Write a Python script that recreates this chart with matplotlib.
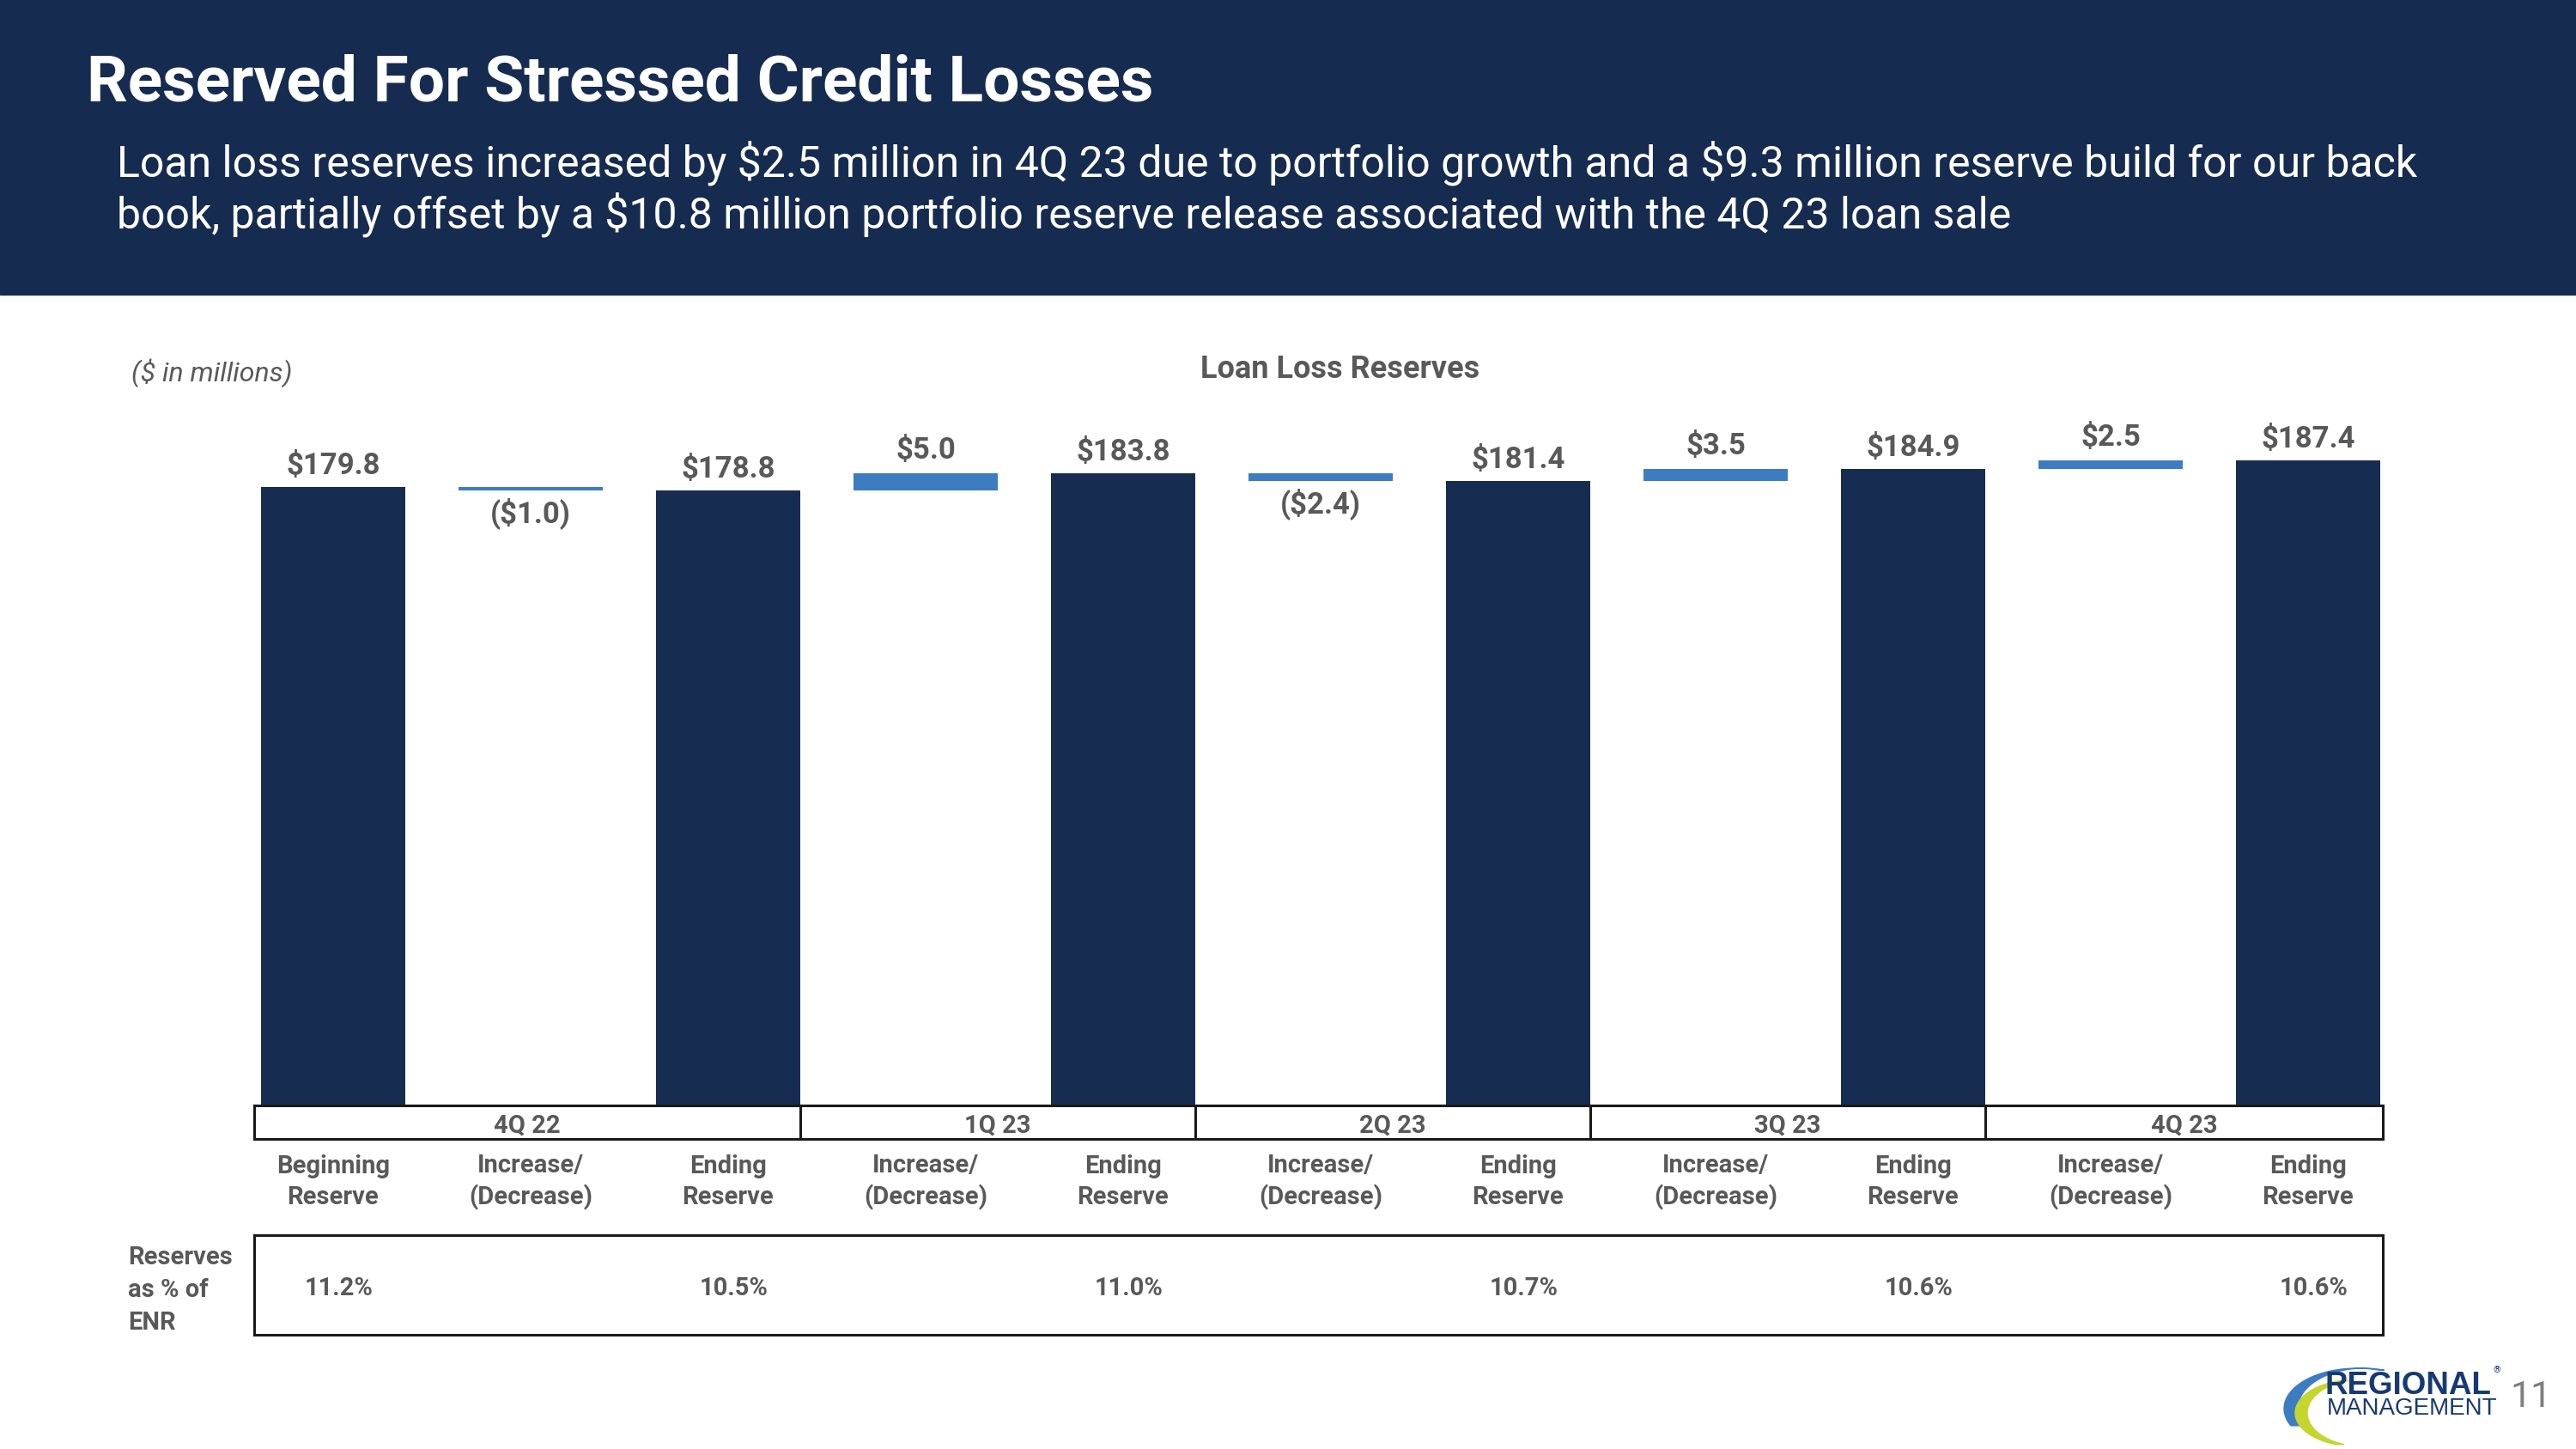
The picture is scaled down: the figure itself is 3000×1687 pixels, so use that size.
import matplotlib
matplotlib.use('Agg')
import matplotlib.pyplot as plt
from matplotlib.patches import Rectangle, Polygon
from matplotlib.transforms import blended_transform_factory
import numpy as np

# ---------------- data ----------------
periods = ['4Q 22', '1Q 23', '2Q 23', '3Q 23', '4Q 23']
beginning_reserve = 179.8
changes = [-1.0, 5.0, -2.4, 3.5, 2.5]
ending_reserves = [178.8, 183.8, 181.4, 184.9, 187.4]
reserve_pct_enr = [11.2, 10.5, 11.0, 10.7, 10.6, 10.6]
cat_begin = 'Beginning\nReserve'
cat_change = 'Increase/\n(Decrease)'
cat_end = 'Ending\nReserve'

title = 'Reserved For Stressed Credit Losses'
subtitle_lines = ['Loan loss reserves increased by $2.5 million in 4Q 23 due to portfolio growth and a $9.3 million reserve build for our back',
                  'book, partially offset by a $10.8 million portfolio reserve release associated with the 4Q 23 loan sale']

# ---------------- style ----------------
NAVY = '#172C51'
BLUE = '#3D7CC0'
GRAY = '#595959'
FONT = 'Roboto'
plt.rcParams['font.family'] = [FONT, 'DejaVu Sans']
plt.rcParams['text.parse_math'] = False

W, H = 3000, 1687
fig = plt.figure(figsize=(30, 16.87), dpi=100)
fig.patch.set_facecolor('white')

def fx(x):
    return x / W

def fy(y):
    return 1 - y / H

# header band
fig.patches.append(Rectangle((0, fy(343)), 1, 343 / H, transform=fig.transFigure,
                             color='#162B50', zorder=0))
fig.text(fx(101), fy(117), title, color='white', fontsize=54, fontweight='bold',
         ha='left', va='baseline')
for k, line in enumerate(subtitle_lines):
    fig.text(fx(136), fy(206 + 60 * k), line, color='white', fontsize=36,
             ha='left', va='baseline')

# ---------------- chart ----------------
ax = fig.add_axes([fx(273), fy(1286), fx(2803) - fx(273), 800 / H])

seq = [('total', beginning_reserve)]
for c, e in zip(changes, ending_reserves):
    seq.append(('change', c))
    seq.append(('total', e))

width = 0.73
prev = 0.0
for i, (kind, v) in enumerate(seq):
    if kind == 'total':
        ax.bar(i, v, width=width, color=NAVY, zorder=2)
        ax.annotate(f'${v:.1f}', (i, v), xytext=(0, 15), textcoords='offset pixels',
                    ha='center', va='baseline', fontsize=25, fontweight='bold', color=GRAY)
        prev = v
    else:
        ax.bar(i, v, bottom=prev, width=width, color=BLUE, zorder=2)
        if v >= 0:
            ax.annotate(f'${v:.1f}', (i, prev + v), xytext=(0, 17), textcoords='offset pixels',
                        ha='center', va='baseline', fontsize=25, fontweight='bold', color=GRAY)
        else:
            ax.annotate(f'(${abs(v):.1f})', (i, prev + v), xytext=(0, -8), textcoords='offset pixels',
                        ha='center', va='top', fontsize=25, fontweight='bold', color=GRAY)
        prev = prev + v

ax.axis('off')

fig.text(fx(1561), fy(440), 'Loan Loss Reserves', fontsize=26, fontweight='bold',
         color=GRAY, ha='center', va='baseline')
fig.text(fx(153), fy(444), '($ in millions)', fontsize=23, fontstyle='italic',
         color=GRAY, ha='left', va='baseline')

# ---------------- table ----------------
trans = blended_transform_factory(ax.transData, fig.transFigure)
n = len(seq)
x_left = -width / 2 - 0.035
x_right = (n - 1) + width / 2 + 0.015
ending_idx = [i for i, (k, _) in enumerate(seq) if k == 'total'][1:]
bounds = [x_left] + [i + width / 2 for i in ending_idx[:-1]] + [x_right]

LW = 2.2
LC = '#1a1a1a'

def hline(y, x0=x_left, x1=x_right):
    ax.plot([x0, x1], [fy(y), fy(y)], transform=trans, clip_on=False, color=LC, lw=LW,
            solid_capstyle='projecting')

def vline(x, y0, y1):
    ax.plot([x, x], [fy(y0), fy(y1)], transform=trans, clip_on=False, color=LC, lw=LW)

# quarter row
hline(1287)
hline(1326)
for b in bounds:
    vline(b, 1287, 1326)
for q, (b0, b1) in enumerate(zip(bounds[:-1], bounds[1:])):
    ax.text((b0 + b1) / 2, fy(1319), periods[q], transform=trans, ha='center', va='baseline',
            fontsize=21, fontweight='bold', color=GRAY)

# categories
cats = [cat_begin] + [c for _ in periods for c in (cat_change, cat_end)]
for i, c in enumerate(cats):
    ax.text(i, fy(1376), c, transform=trans, ha='center', va='center',
            fontsize=21, fontweight='bold', color=GRAY, linespacing=1.35)

# reserves row
hline(1438)
hline(1554)
vline(x_left, 1438, 1554)
vline(x_right, 1438, 1554)
total_idx = [i for i, (k, _) in enumerate(seq) if k == 'total']
for i, p in zip(total_idx, reserve_pct_enr):
    ax.text(i + 0.03, fy(1500), f'{p:.1f}%', transform=trans, ha='center', va='center',
            fontsize=21, fontweight='bold', color=GRAY)
fig.text(fx(149), fy(1502), 'Reserves\nas % of\nENR', ha='left', va='center',
         fontsize=21, fontweight='bold', color=GRAY, linespacing=1.45)

ax.set_xlim(-0.5, 10.5)
ax.set_ylim(0, 200)

# ---------------- logo ----------------
def crescent(cx, cy, rx, ry, d, t0, t1, color):
    t = np.radians(np.linspace(t0, t1, 60))
    outer = [(cx + rx * np.cos(a), cy - ry * np.sin(a)) for a in t]
    inner = [(cx + d + (rx - d) * np.cos(a), cy - ry * np.sin(a)) for a in t[::-1]]
    pts = [(fx(x), fy(y)) for x, y in outer + inner]
    fig.patches.append(Polygon(pts, closed=True, transform=fig.transFigure,
                               color=color, zorder=3))

crescent(2745, 1640, 85, 47, 8, 72, 205, '#3D7CC0')
crescent(2745, 1645, 72, 39, 7, 105, 250, '#C5D52E')
fig.text(fx(2708), fy(1623), 'REGIONAL', fontsize=26.5, fontweight='bold', color='#183A72',
         ha='left', va='baseline', family='Liberation Sans')
fig.text(fx(2710), fy(1647), 'MANAGEMENT', fontsize=20, color='#183A72',
         ha='left', va='baseline', family='Liberation Sans')
fig.text(fx(2903), fy(1598), '®', fontsize=8, color='#183A72', ha='left', va='baseline')
fig.text(fx(2948), fy(1638), '11', fontsize=31, color='#7F7F7F', ha='center', va='baseline')

fig.savefig('out.png', dpi=100, facecolor='white')
